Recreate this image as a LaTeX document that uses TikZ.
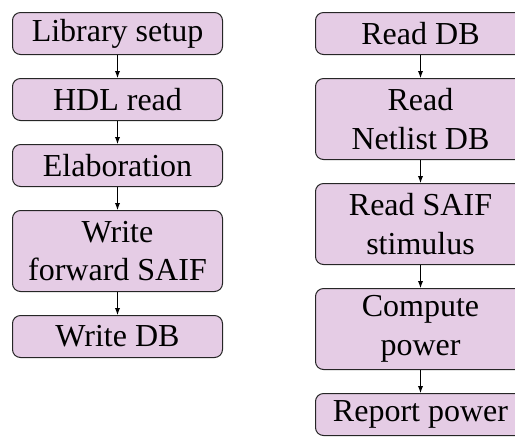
\documentclass[tikz,border=0pt]{standalone}
\usepackage{fontspec}
\setmainfont{Liberation Serif}
\usetikzlibrary{positioning,arrows.meta}
\begin{document}
\begin{tikzpicture}[
  stepbox/.style={draw=black!85, fill=violet!20, rounded corners=4pt,
    line width=0.5pt, minimum width=105pt, minimum height=21pt,
    align=center, inner sep=0pt, font=\fontsize{16}{19.2}\selectfont},
  tallbox/.style={stepbox, minimum height=40.5pt},
  flow/.style={-{Latex[length=3.5pt,width=2.6pt]}, line width=0.45pt},
  node distance=11.5pt
]
\useasboundingbox (0,0) rectangle (257.5pt,-220.5pt);

% synthesis flow
\node[stepbox, anchor=north west] (lib) at (6pt,-6pt) {Library setup};
\node[stepbox, below=of lib] (hdl) {HDL read};
\node[stepbox, below=of hdl] (elab) {Elaboration};
\node[tallbox, below=of elab] (fsaif) {Write\\forward SAIF};
\node[stepbox, below=of fsaif] (wdb) {Write DB};

\draw[flow] (lib) -- (hdl);
\draw[flow] (hdl) -- (elab);
\draw[flow] (elab) -- (fsaif);
\draw[flow] (fsaif) -- (wdb);

% power analysis flow
\node[stepbox, anchor=north west] (rdb) at (157.5pt,-6pt) {Read DB};
\node[tallbox, below=of rdb] (net) {Read\\Netlist DB};
\node[tallbox, below=of net] (rsaif) {Read SAIF\\stimulus};
\node[tallbox, below=of rsaif] (comp) {Compute\\power};
\node[stepbox, below=of comp] (rep) {Report power};

\draw[flow] (rdb) -- (net);
\draw[flow] (net) -- (rsaif);
\draw[flow] (rsaif) -- (comp);
\draw[flow] (comp) -- (rep);
\end{tikzpicture}
\end{document}
